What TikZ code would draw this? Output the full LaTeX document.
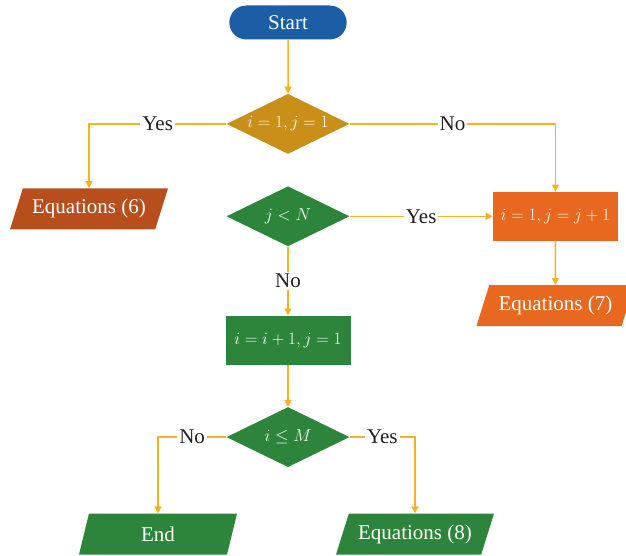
\documentclass[tikz,border=0pt]{standalone}
\usepackage{amsmath}
\usepackage{fontspec}
\setmainfont{Liberation Serif}
\usetikzlibrary{positioning,calc,shapes.geometric,shapes.misc,arrows.meta}
\definecolor{startblue}{HTML}{1B5EA6}
\definecolor{gold}{HTML}{C98F19}
\definecolor{rust}{HTML}{B84E1B}
\definecolor{leaf}{HTML}{2C853A}
\definecolor{carrot}{HTML}{E8681F}
\definecolor{amber}{HTML}{F7B121}
\definecolor{ink}{HTML}{231F20}

\begin{document}
\begin{tikzpicture}[x=1pt,y=1pt,font=\fontsize{21}{25}\selectfont]
	\tikzset{
		terminal/.style={rounded rectangle, fill=startblue, text=white,
				minimum width=124pt, minimum height=34pt},
		decision/.style={diamond, aspect=2, text=white, inner sep=0pt,
				minimum width=123pt, minimum height=60pt,
				font=\fontsize{19}{20}\selectfont},
		process/.style={rectangle, text=white, inner sep=1pt,
				minimum width=125pt, minimum height=49pt,
				font=\fontsize{19}{20}\selectfont},
		io/.style={trapezium, trapezium left angle=56, trapezium right angle=124,
				trapezium stretches body=true,
				text=white, inner sep=0pt, minimum width=158pt, minimum height=41pt},
		link/.style={draw=amber, line width=1.5pt, -{Triangle[length=7pt,width=7pt]}},
		answer/.style={fill=white, text=ink, inner sep=2pt},
	}
	\useasboundingbox (0,0) rectangle (626,-556);
	% main column
	\node[terminal] (start) at (288,-22.5) {Start};
	\node[decision, fill=gold, below=54pt of start] (d1) {$i=1, j=1$};
	\node[decision, fill=leaf, below=32pt of d1] (d2) {$j<N$};
	\node[process, fill=leaf, below=69pt of d2] (b3) {$i=i+1, j=1$};
	\node[decision, fill=leaf, below=42pt of b3] (d3) {$i\leq M$};
	% side branches
	\node[io, fill=rust] at ($(d1)+(-199,-85)$) (eq6) {Equations (6)};
	\node[process, fill=carrot, right=143pt of d2] (b1) {$i=1, j=j+1$};
	\node[io, fill=carrot, below=44pt of b1] (eq7) {Equations (7)};
	\node[io, fill=leaf] at ($(d3)+(-130,-97)$) (fin) {End};
	\node[io, fill=leaf] at ($(d3)+(127,-97)$) (eq8) {Equations (8)};
	%
	\draw[link] (start) -- (d1);
	\draw[link] (d1.west) -| node[answer, pos=0.25] {Yes} (eq6.north);
	\draw[link] (d1.east) -| node[answer, pos=0.25] {No} (b1.north);
	\draw[link] (d2.east) -- node[answer] {Yes} (b1.west);
	\draw[link] (d2.south) -- node[answer] {No} (b3.north);
	\draw[link] (b1) -- (eq7);
	\draw[link] (b3) -- (d3);
	\draw[link] (d3.west) -| node[answer, pos=0.25] {No} (fin.north);
	\draw[link] (d3.east) -| node[answer, pos=0.25] {Yes} (eq8.north);
\end{tikzpicture}
\end{document}
